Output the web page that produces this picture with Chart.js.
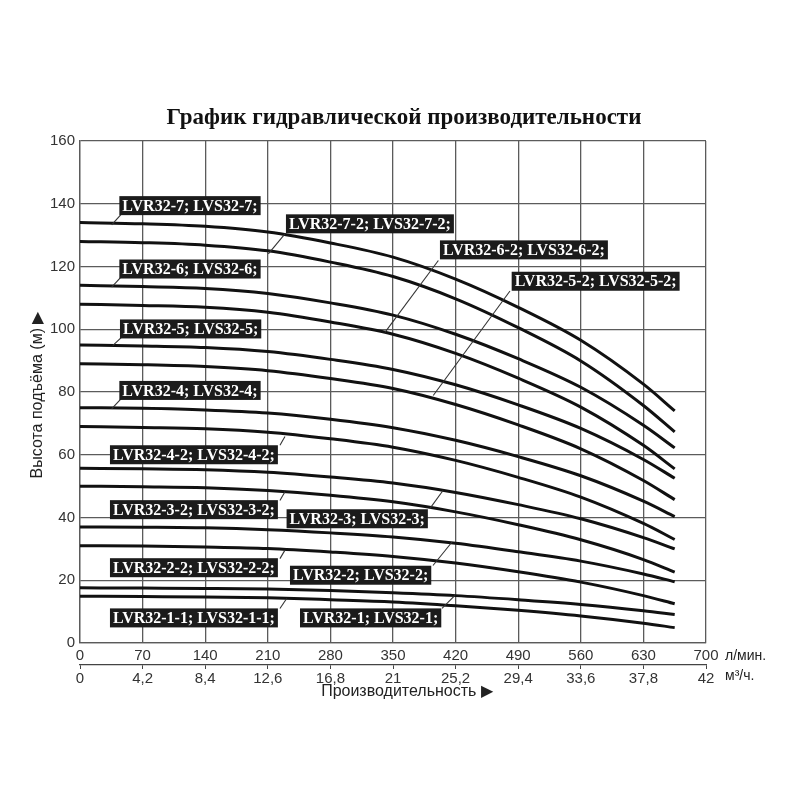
<!DOCTYPE html>
<html>
<head>
<meta charset="utf-8">
<script src="https://cdn.jsdelivr.net/npm/chart.js@4.4.1/dist/chart.umd.min.js"></script>
<style>
  html, body { margin: 0; padding: 0; background: #fff; }
  #wrap { width: 800px; height: 800px; }
</style>
</head>
<body>
<div id="wrap"><canvas id="pumpChart" width="800" height="800"></canvas></div>
<script>
// --- DATA ---
const flowPoints = [0, 70, 140, 210, 280, 350, 420, 490, 560, 630, 665]; // л/мин

const head7   = [134, 133.6, 132.8, 131, 127.5, 123, 116, 107, 96.5, 82.5, 74];
const head7_2 = [128, 127.6, 126.8, 125, 121.4, 116.8, 109.7, 100.5, 89.9, 75.7, 67.3];
const head6   = [114, 113.6, 113, 111.4, 108.4, 104.5, 98.4, 90.6, 81.5, 69.4, 62.2];
const head6_2 = [108, 107.6, 107, 105.4, 102.3, 98.4, 92.3, 84.4, 75.2, 63, 55.5];
const head5   = [95, 94.7, 94.2, 92.9, 90.4, 87.2, 82.3, 75.9, 68.4, 58.5, 52.5];
const head5_2 = [89, 88.7, 88.1, 86.8, 84.3, 81.1, 76, 69.5, 61.9, 51.8, 45.7];
const head4   = [75, 74.8, 74.3, 73.3, 71.3, 68.6, 64.6, 59.4, 53.3, 45.2, 40.3];
const head4_2 = [69, 68.7, 68.3, 67.2, 65.1, 62.4, 58.2, 52.8, 46.5, 38.1, 33];
const head3   = [55.7, 55.5, 55.2, 54.4, 52.9, 51, 48, 44.1, 39.6, 33.6, 30];
const head3_2 = [50, 49.8, 49.5, 48.6, 47.1, 45, 41.8, 37.7, 32.9, 26.6, 22.6];
const head2   = [37, 36.9, 36.7, 36.1, 35.1, 33.8, 31.8, 29.1, 26.1, 22, 19.5];
const head2_2 = [31, 30.9, 30.6, 30.1, 29, 27.6, 25.5, 22.7, 19.4, 15.1, 12.5];
const head1   = [17.6, 17.5, 17.4, 17.2, 16.7, 16, 15.1, 13.8, 12.3, 10.3, 9.1];
const head1_1 = [14.9, 14.8, 14.7, 14.4, 13.8, 13.1, 11.9, 10.4, 8.6, 6.3, 4.9];

const curveNames = ['32-7', '32-7-2', '32-6', '32-6-2', '32-5', '32-5-2', '32-4', '32-4-2',
                    '32-3', '32-3-2', '32-2', '32-2-2', '32-1', '32-1-1'];
const curveHeads = [head7, head7_2, head6, head6_2, head5, head5_2, head4, head4_2,
                    head3, head3_2, head2, head2_2, head1, head1_1];

const flowTicks = [0, 70, 140, 210, 280, 350, 420, 490, 560, 630, 700];
const m3hTicks  = [0, 4.2, 8.4, 12.6, 16.8, 21, 25.2, 29.4, 33.6, 37.8, 42];
const m3hLabels = ['0', '4,2', '8,4', '12,6', '16,8', '21', '25,2', '29,4', '33,6', '37,8', '42'];
const headTicks = [0, 20, 40, 60, 80, 100, 120, 140, 160];

const chartTitle = 'График гидравлической производительности';
const yTitle = 'Высота подъёма (м) \u25B6';
const xTitle = 'Производительность \u25B6';

// callouts: box left / box middle (data units) and leader line (data units)
const callouts = [
  { name: '32-7',   bx: 44,    by: 139.4, l: [46.5, 136.8, 35.4, 133.3] },
  { name: '32-7-2', bx: 230.3, by: 133.6, l: [229.2, 130.4, 210.6, 124] },
  { name: '32-6',   bx: 44,    by: 119.2, l: [45.8, 116.6, 35.4, 113.4] },
  { name: '32-6-2', bx: 402.5, by: 125.3, l: [400.7, 121.9, 341, 99] },
  { name: '32-5',   bx: 44.7,  by: 100.1, l: [46.6, 97.5, 36.6, 94.8] },
  { name: '32-5-2', bx: 482.7, by: 115.3, l: [480.8, 112.2, 395, 78.9] },
  { name: '32-4',   bx: 44,    by: 80.5,  l: [45.8, 77.8, 35.4, 74.6] },
  { name: '32-4-2', bx: 33.5,  by: 60,    l: [223.6, 63, 229.2, 65.8] },
  { name: '32-3-2', bx: 33.5,  by: 42.5,  l: [223.6, 45.4, 229.2, 48.2] },
  { name: '32-3',   bx: 231,   by: 39.6,  l: [391.4, 42.9, 405.9, 48.6] },
  { name: '32-2-2', bx: 33.5,  by: 24,    l: [223.6, 26.9, 229.2, 29.6] },
  { name: '32-2',   bx: 234.8, by: 21.6,  l: [394.7, 24.7, 416, 32.2] },
  { name: '32-1-1', bx: 33.5,  by: 8,     l: [223.6, 11, 231.1, 14.2] },
  { name: '32-1',   bx: 246,   by: 8,     l: [404.8, 11, 419.3, 15.2] }
];

// --- STYLE ---
const GRID = '#5b5b5b';
const TICK_FONT = { family: '"Liberation Sans", Arial, sans-serif', size: 15 };

const datasets = curveHeads.map((heads, i) => ({
  label: 'LVR' + curveNames[i],
  data: flowPoints.map((q, j) => ({ x: q, y: heads[j] })),
  borderColor: '#111',
  borderWidth: 3,
  pointRadius: 0,
  fill: false,
  cubicInterpolationMode: 'monotone'
}));

const decor = {
  id: 'decor',
  afterDatasetsDraw(chart) {
    const { ctx, scales } = chart;
    const sx = scales.x, sy = scales.y;
    ctx.save();

    // callout leaders and boxes
    ctx.font = 'bold 16px "Liberation Serif", "DejaVu Serif", serif';
    ctx.textBaseline = 'middle';
    ctx.textAlign = 'left';
    callouts.forEach(c => {
      ctx.strokeStyle = '#333';
      ctx.lineWidth = 1.1;
      ctx.beginPath();
      ctx.moveTo(sx.getPixelForValue(c.l[0]), sy.getPixelForValue(c.l[1]));
      ctx.lineTo(sx.getPixelForValue(c.l[2]), sy.getPixelForValue(c.l[3]));
      ctx.stroke();

      const txt = 'LVR' + c.name + '; LVS' + c.name + ';';
      const w = ctx.measureText(txt).width + 6;
      const x0 = sx.getPixelForValue(c.bx);
      const ym = sy.getPixelForValue(c.by);
      ctx.fillStyle = '#1b1b1b';
      ctx.fillRect(x0, ym - 9.5, w, 19);
      ctx.fillStyle = '#fff';
      ctx.fillText(txt, x0 + 3, ym + 1);
    });
    ctx.restore();
  },
  afterDraw(chart) {
    const { ctx, chartArea } = chart;
    ctx.save();
    ctx.fillStyle = '#111';
    ctx.textBaseline = 'middle';
    ctx.textAlign = 'center';

    ctx.font = 'bold 23px "Liberation Serif", "DejaVu Serif", serif';
    ctx.fillText(chartTitle, 404, 118);

    ctx.fillStyle = '#222';
    ctx.font = '16px "Liberation Sans", Arial, sans-serif';
    ctx.fillText(xTitle, 407, 692);

    ctx.textAlign = 'left';
    ctx.font = '14px "Liberation Sans", Arial, sans-serif';
    ctx.fillText('л/мин.', chartArea.right + 19, 656);
    ctx.fillText('м³/ч.', chartArea.right + 19, 676);

    ctx.font = '16px "Liberation Sans", Arial, sans-serif';
    ctx.translate(38, 395);
    ctx.rotate(-Math.PI / 2);
    ctx.textAlign = 'center';
    ctx.fillText(yTitle, 0, 0);
    ctx.restore();
  }
};

new Chart(document.getElementById('pumpChart'), {
  type: 'line',
  data: { datasets },
  options: {
    responsive: false,
    animation: false,
    events: [],
    layout: { padding: { left: 50, right: 94, top: 141, bottom: 111 } },
    plugins: { legend: { display: false }, tooltip: { enabled: false }, title: { display: false } },
    scales: {
      x: {
        type: 'linear', position: 'bottom', weight: 0,
        min: 0, max: 700,
        afterBuildTicks: axis => { axis.ticks = flowTicks.map(v => ({ value: v })); },
        afterFit: axis => { axis.height = 22; },
        ticks: { font: TICK_FONT, color: '#333', padding: 4, maxRotation: 0, autoSkip: false },
        grid: { color: GRID, lineWidth: 1.3, drawTicks: false },
        border: { display: true, color: GRID, width: 1.3 }
      },
      x2: {
        type: 'linear', position: 'bottom', weight: 1,
        min: 0, max: 42,
        afterBuildTicks: axis => { axis.ticks = m3hTicks.map(v => ({ value: v })); },
        afterFit: axis => { axis.height = 24; },
        ticks: {
          font: TICK_FONT, color: '#333', padding: 1, maxRotation: 0, autoSkip: false,
          callback: (v, i) => m3hLabels[i]
        },
        grid: { drawOnChartArea: false, drawTicks: true, tickLength: 4, color: '#444' },
        border: { display: true, color: '#444', width: 1.3 }
      },
      y: {
        type: 'linear', position: 'left',
        min: 0, max: 160,
        afterBuildTicks: axis => { axis.ticks = headTicks.map(v => ({ value: v })); },
        afterFit: axis => { axis.width = 30; },
        ticks: { font: TICK_FONT, color: '#333', padding: 5 },
        grid: { color: GRID, lineWidth: 1.3, drawTicks: false },
        border: { display: true, color: GRID, width: 1.3 }
      }
    }
  },
  plugins: [decor]
});
</script>
</body>
</html>
